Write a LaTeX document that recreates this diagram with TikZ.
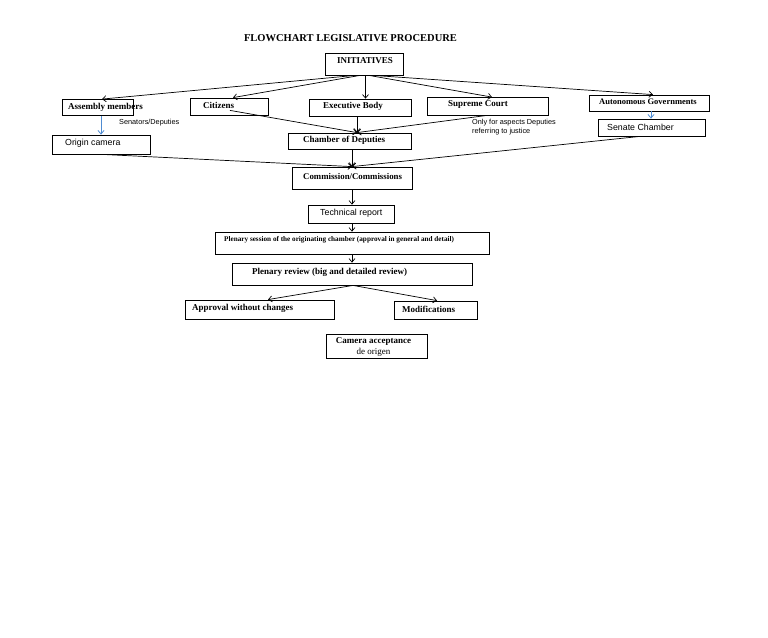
\documentclass[tikz,border=0pt]{standalone}
\usepackage{fontspec}
\setmainfont{Liberation Serif}
\setsansfont{Liberation Sans}
\usetikzlibrary{arrows.meta,calc}
\definecolor{bluearr}{RGB}{79,140,210}
\tikzset{
  box/.style={draw, line width=0.8pt, inner sep=0pt},
  conn/.style={line width=0.7pt, -{Straight Barb[length=3.5pt,width=6pt]}},
  bconn/.style={line width=0.8pt, draw=bluearr, -{Straight Barb[length=3.5pt,width=6pt]}},
  bt/.style={font=\bfseries\fontsize{9}{10}\selectfont, inner sep=0pt, anchor=west},
  st/.style={font=\sffamily\fontsize{8.8}{10}\selectfont, inner sep=0pt, anchor=west},
  sm/.style={font=\sffamily\fontsize{7.3}{8.5}\selectfont, inner sep=0pt, anchor=west, align=left},
}
\begin{document}
\begin{tikzpicture}[x=1pt,y=-1pt]
\useasboundingbox[fill=white] (0,0) rectangle (768,637);

\node[font=\bfseries\fontsize{10.5}{12}\selectfont, inner sep=0pt] (title) at (350.5,38) {FLOWCHART LEGISLATIVE PROCEDURE};

% boxes
\node[box, minimum width=78pt, minimum height=22pt] (init) at (364,64) {};
\node[bt, anchor=center] (initT) at (365,61) {INITIATIVES};

\node[box, minimum width=71pt, minimum height=16pt] (asm) at (97.5,107.5) {};
\node[bt] (asmT) at (68,107.5) {Assembly members};

\node[box, minimum width=78pt, minimum height=17pt] (cit) at (229,106.5) {};
\node[bt] (citT) at (203,105) {Citizens};

\node[box, minimum width=102pt, minimum height=17pt] (exe) at (360,107.5) {};
\node[bt] (exeT) at (323,106) {Executive Body};

\node[box, minimum width=121pt, minimum height=18pt] (sup) at (487.5,106) {};
\node[bt] (supT) at (448,104.5) {Supreme Court};

\node[box, minimum width=120pt, minimum height=16pt] (aut) at (649,103) {};
\node[bt, font=\bfseries\fontsize{8.5}{10}\selectfont] (autT) at (599,102) {Autonomous Governments};

\node[box, minimum width=107pt, minimum height=17pt] (sen) at (651.5,127.5) {};
\node[st] (senT) at (607,127.5) {Senate Chamber};

\node[box, minimum width=98pt, minimum height=19pt] (org) at (101,144.5) {};
\node[st] (orgT) at (65,143.5) {Origin camera};

\node[sm] (senat) at (119,122.5) {Senators/Deputies};
\node[sm] (only) at (472,127) {Only for aspects Deputies\\referring to justice};

\node[box, minimum width=123pt, minimum height=16pt] (chd) at (349.5,141) {};
\node[bt] (chdT) at (303,140) {Chamber of Deputies};

\node[box, minimum width=120pt, minimum height=22pt] (com) at (352,178) {};
\node[bt, font=\bfseries\fontsize{8.8}{10}\selectfont] (comT) at (303,176.5) {Commission/Commissions};

\node[box, minimum width=86pt, minimum height=18pt] (tec) at (351,214) {};
\node[st] (tecT) at (320,213) {Technical report};

\node[box, minimum width=274pt, minimum height=22pt] (ple) at (352,243) {};
\node[bt, font=\bfseries\fontsize{7.2}{8}\selectfont] (pleT) at (224,240) {Plenary session of the originating chamber (approval in general and detail)};

\node[box, minimum width=240pt, minimum height=22pt] (rev) at (352,274) {};
\node[bt] (revT) at (252,272) {Plenary review (big and detailed review)};

\node[box, minimum width=149pt, minimum height=19pt] (app) at (259.5,309.5) {};
\node[bt] (appT) at (192,308.5) {Approval without changes};

\node[box, minimum width=83pt, minimum height=18pt] (mod) at (435.5,310) {};
\node[bt] (modT) at (402,309) {Modifications};

\node[box, minimum width=101pt, minimum height=24pt] (cam) at (376.5,346) {};
\node[inner sep=0pt, align=center, font=\fontsize{9}{11}\selectfont] (camT) at (373.5,346.5) {\textbf{Camera acceptance}\\de origen};

% connectors from INITIATIVES
\draw[conn] ([xshift=-9pt]init.south) -- (asm.north -| 102,0);
\draw[conn] ([xshift=-4pt]init.south) -- (cit.north -| 233,0);
\draw[conn] ([xshift=1.5pt]init.south) -- (exe.north -| 365.5,0);
\draw[conn] ([xshift=5pt]init.south) -- ([yshift=-0.5pt]sup.north -| 492,0);
\draw[conn] ([xshift=9pt]init.south) -- (aut.north -| 653,0);

% blue arrows
\draw[bconn] (asm.south -| 101,0) -- (org.north -| 101,0);
\draw[bconn] (aut.south -| 651,0) -- (sen.north -| 651,0);

% to Chamber of Deputies
\coordinate (chdIn) at (chd.north -| 357,0);
\draw[conn] ([yshift=5pt]cit.south -| 230,0) -- (chdIn);
\draw[conn] (exe.south -| 357,0) -- (chdIn);
\draw[conn] (sup.south -| 487,0) -- (chdIn);

% to Commission
\coordinate (comIn) at (com.north -| 352,0);
\draw[conn] (chd.south -| 352,0) -- (comIn);
\draw[conn] (org.south -| 102,0) -- (comIn);
\draw[conn] (sen.south -| 640,0) -- (comIn);

% main chain
\draw[conn] (com.south -| 352,0) -- (tec.north -| 352,0);
\draw[conn] (tec.south -| 352,0) -- (ple.north -| 352,0);
\draw[conn] (ple.south -| 352,0) -- (rev.north -| 352,0);
\draw[conn] (rev.south -| 353,0) -- (app.north -| 268,0);
\draw[conn] (rev.south -| 353,0) -- (mod.north -| 437,0);
\end{tikzpicture}
\end{document}
